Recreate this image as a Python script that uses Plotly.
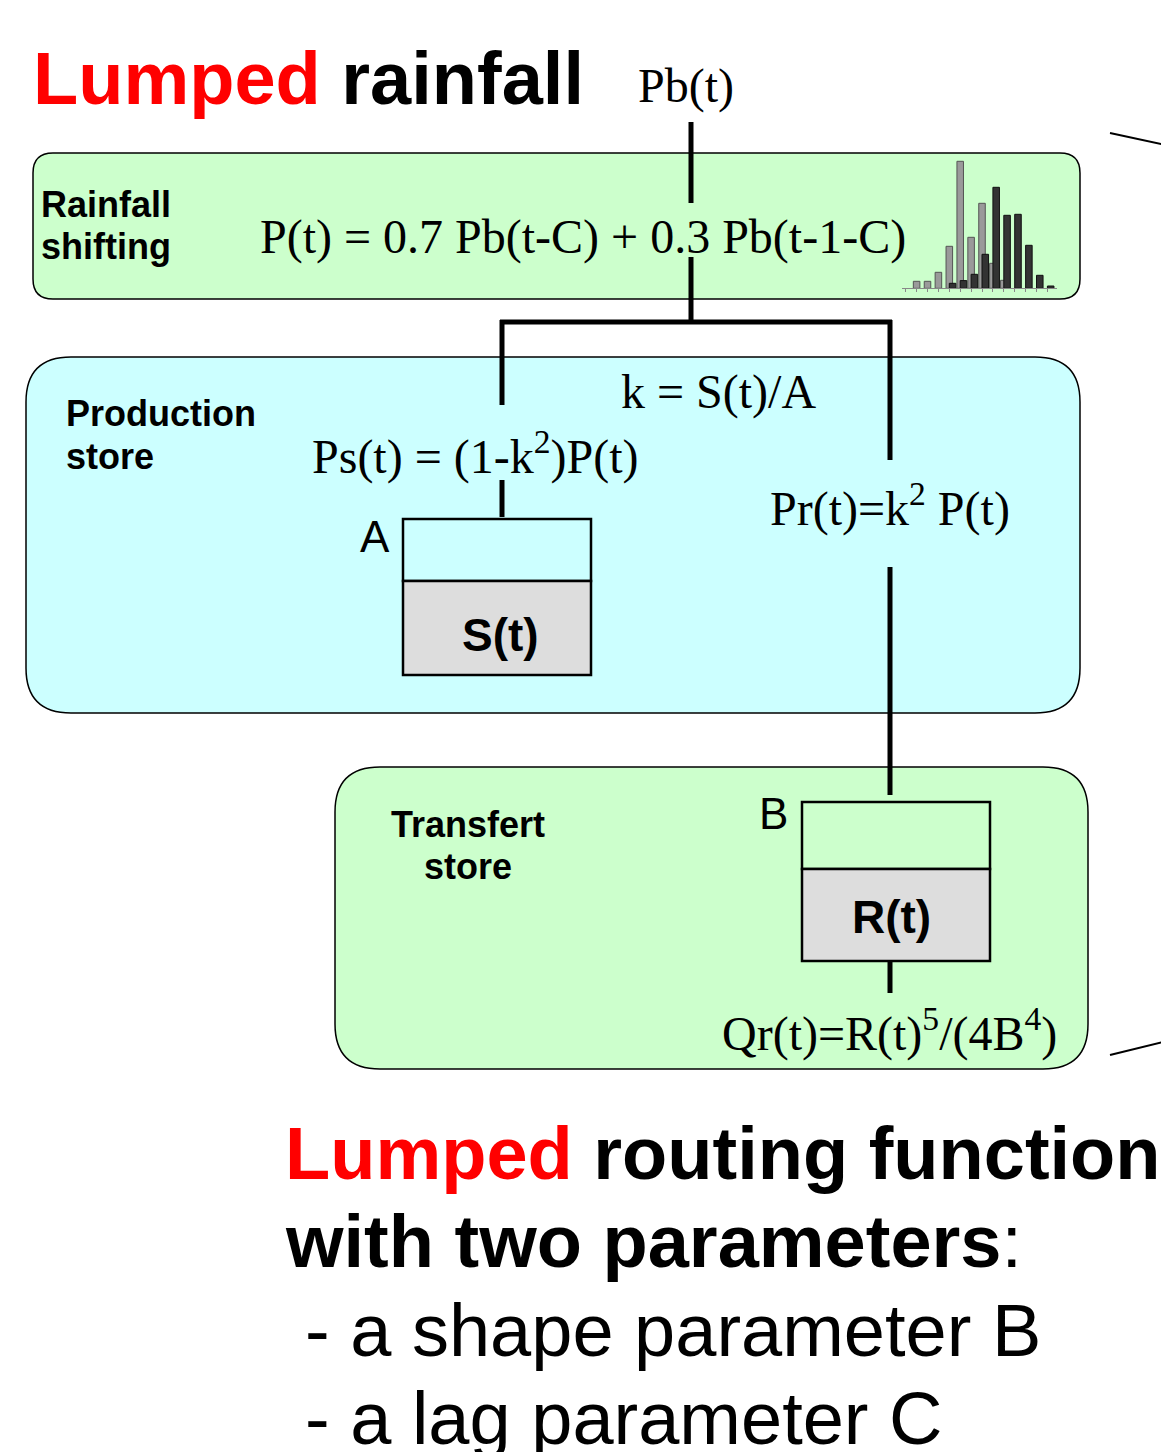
import plotly.graph_objects as go

W, H = 1169, 1452
OFF = 8  # page body margin of the html page

# ---- data (inset rainfall histogram) ----
rain_steps = list(range(0, 9))
rain_observed = [7, 7, 16, 42, 127, 51, 85, 25, 8]
shift_steps = list(range(3, 13))
rain_shifted = [5, 7.7, 14, 34, 101, 73, 74, 43, 13, 2.3]

SANS = "Liberation Sans, Arial, sans-serif"
SERIF = "Liberation Serif, Times New Roman, serif"


def px(x):
    return (x - OFF) / W


def py(y):
    return 1 - (y - OFF) / H


def rrect_path(x0, y0, x1, y1, r):
    pts = [
        ("M", [(x0 + r, y0)]), ("L", [(x1 - r, y0)]), ("Q", [(x1, y0), (x1, y0 + r)]),
        ("L", [(x1, y1 - r)]), ("Q", [(x1, y1), (x1 - r, y1)]),
        ("L", [(x0 + r, y1)]), ("Q", [(x0, y1), (x0, y1 - r)]),
        ("L", [(x0, y0 + r)]), ("Q", [(x0, y0), (x0 + r, y0)]),
    ]
    s = ""
    for cmd, coords in pts:
        s += cmd + " " + " ".join(f"{px(a):.5f},{py(b):.5f}" for a, b in coords) + " "
    return s + "Z"


shapes = []


def rbox(x0, y0, x1, y1, r, fill, lw=1.5):
    shapes.append(dict(type="path", path=rrect_path(x0, y0, x1, y1, r), xref="paper", yref="paper",
                       fillcolor=fill, line=dict(color="black", width=lw), layer="below"))


def rect(x0, y0, x1, y1, fill="rgba(0,0,0,0)", lw=2.5):
    shapes.append(dict(type="rect", xref="paper", yref="paper", x0=px(x0), x1=px(x1), y0=py(y1), y1=py(y0),
                       fillcolor=fill, line=dict(color="black", width=lw), layer="below"))


def seg(x0, y0, x1, y1, lw=5):
    shapes.append(dict(type="line", xref="paper", yref="paper", x0=px(x0), x1=px(x1), y0=py(y0), y1=py(y1),
                       line=dict(color="black", width=lw)))


annotations = []


def text(t, x, baseline, size, family=SANS, anchor="left", color="black", desc=0.212):
    annotations.append(dict(text=t, xref="paper", yref="paper", x=px(x), y=py(baseline + desc * size + 1),
                            xanchor=anchor, yanchor="bottom", showarrow=False,
                            font=dict(family=family, size=size, color=color)))


# boxes
rbox(33, 153, 1080, 299, 20, "#ccffcc")
rbox(26, 357, 1080, 713, 45, "#ccffff")
rbox(335, 767, 1088, 1069, 45, "#ccffcc")
rect(403, 519, 591, 581)
rect(403, 581, 591, 675, fill="#dddddd")
rect(802, 802, 990, 869)
rect(802, 869, 990, 961, fill="#dddddd")

# connecting lines
seg(691, 122, 691, 203)
seg(691, 257, 691, 324)
seg(500, 322, 892, 322)
seg(502, 320, 502, 405)
seg(502, 480, 502, 517)
seg(890, 320, 890, 460)
seg(890, 567, 890, 795)
seg(890, 961, 890, 993)
seg(1110, 133, 1175, 147, lw=2)
seg(1110, 1055, 1175, 1039, lw=2)

# texts
text("<b><span style='color:#ff0000'>Lumped</span> rainfall</b>", 31, 105, 74)
text("Pb(t)", 636, 104, 48, SERIF, desc=0.216)
text("<b>Rainfall</b>", 39, 218, 36)
text("<b>shifting</b>", 39, 260, 36)
text("P(t) = 0.7 Pb(t-C) + 0.3 Pb(t-1-C)", 258, 255, 48, SERIF, desc=0.216)
text("<b>Production</b>", 64, 427, 36)
text("<b>store</b>", 64, 470, 36)
text("k = S(t)/A", 619, 410, 48, SERIF, desc=0.216)
text("Ps(t) = (1-k<sup>2</sup>)P(t)", 310, 475, 48, SERIF, desc=0.216)
text("Pr(t)=k<sup>2</sup> P(t)", 768, 527, 48, SERIF, desc=0.216)
text("A", 358, 553, 44)
text("<b>S(t)</b>", 500, 652, 46, anchor="center")
text("<b>Transfert</b>", 468, 838, 36, anchor="center")
text("<b>store</b>", 468, 880, 36, anchor="center")
text("B", 757, 830, 44)
text("<b>R(t)</b>", 891, 934, 46, anchor="center")
text("Qr(t)=R(t)<sup>5</sup>/(4B<sup>4</sup>)", 720, 1052, 48, SERIF, desc=0.216)
text("<b><span style='color:#ff0000'>Lumped</span> routing function</b>", 283, 1180, 74)
text("<b>with two parameters</b>:", 283, 1268, 74)
text("- a shape parameter B", 303, 1357, 74)
text("- a lag parameter C", 303, 1445, 74)

fig = go.Figure()
fig.add_trace(go.Bar(x=rain_steps, y=rain_observed, width=0.6, offset=-0.3,
                     marker=dict(color="#9a9a9a", line=dict(color="#555555", width=1)),
                     xaxis="x2", yaxis="y2", showlegend=False, hoverinfo="skip"))
fig.add_trace(go.Bar(x=shift_steps, y=rain_shifted, width=0.6, offset=0.0,
                     marker=dict(color="#333333", line=dict(color="#111111", width=1)),
                     xaxis="x2", yaxis="y2", showlegend=False, hoverinfo="skip"))

fig.update_layout(
    width=W, height=H,
    margin=dict(l=0, r=0, t=0, b=0),
    paper_bgcolor="white", plot_bgcolor="rgba(0,0,0,0)",
    barmode="overlay",
    xaxis2=dict(domain=[px(902), px(1057)], range=[-1.34, 12.88], anchor="y2",
                showline=True, linecolor="#888888", linewidth=1, ticks="outside", ticklen=3,
                tickcolor="#888888", dtick=1, showticklabels=False, showgrid=False, zeroline=False,
                fixedrange=True),
    yaxis2=dict(domain=[py(288.3), py(158)], range=[0, 130.3], anchor="x2", visible=False,
                showgrid=False, fixedrange=True),
    shapes=shapes,
    annotations=annotations,
)

fig.write_html("out.html")
